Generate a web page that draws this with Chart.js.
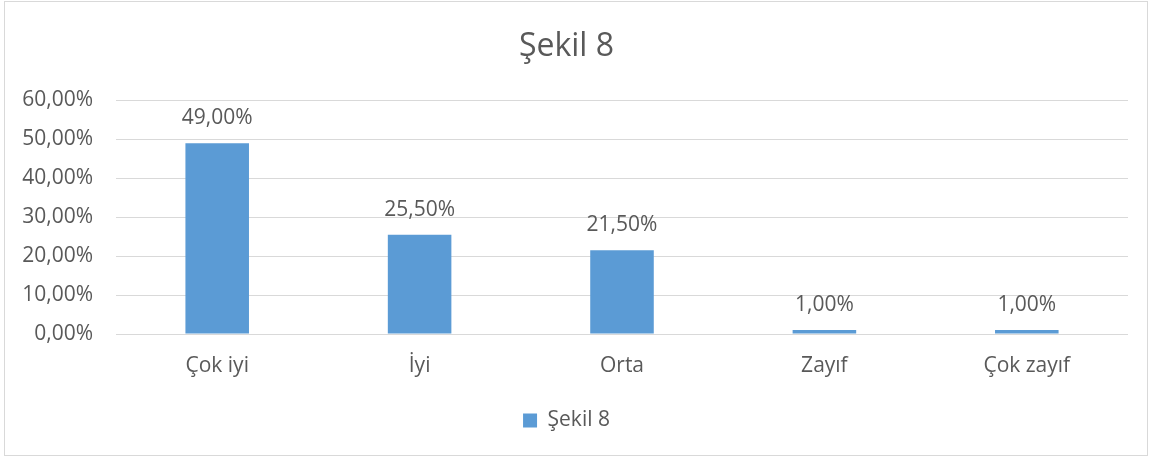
<!DOCTYPE html>
<html>
<head>
<meta charset="utf-8">
<script src="https://cdn.jsdelivr.net/npm/chart.js@4"></script>
<style>
  html, body { margin: 0; padding: 0; background: #fff; }
  #frame { position: absolute; left: 4px; top: 1px; width: 1144px; height: 455px; box-sizing: border-box; border: 1px solid #d9d9d9; }
  #chart { display: block; }
</style>
</head>
<body>
<div id="frame"><canvas id="chart" width="1142" height="453"></canvas></div>
<script>
const categories = ['Çok iyi', 'İyi', 'Orta', 'Zayıf', 'Çok zayıf'];
const seriesName = 'Şekil 8';
const values = [49, 25.5, 21.5, 1, 1];
const yTicks = [0, 10, 20, 30, 40, 50, 60];

const textColor = '#595959';
const font = 'Open Sans';
const fmt = v => v.toFixed(2).replace('.', ',') + '%';

const barLabels = {
  id: 'barLabels',
  afterDatasetsDraw(chart) {
    const ctx = chart.ctx;
    const meta = chart.getDatasetMeta(0);
    ctx.save();
    ctx.font = '21px "' + font + '"';
    ctx.fillStyle = textColor;
    ctx.textAlign = 'center';
    ctx.textBaseline = 'middle';
    meta.data.forEach((bar, i) => {
      ctx.fillText(fmt(values[i]), bar.x, bar.y - 25);
    });
    ctx.restore();
  }
};

new Chart(document.getElementById('chart'), {
  type: 'bar',
  data: {
    labels: categories,
    datasets: [{
      label: seriesName,
      data: values,
      backgroundColor: '#5b9bd5',
      borderWidth: 0,
      categoryPercentage: 1,
      barPercentage: 0.314
    }]
  },
  options: {
    responsive: false,
    animation: false,
    layout: { padding: { left: 0, right: 19, top: 0, bottom: 14 } },
    plugins: {
      title: {
        display: true,
        text: seriesName,
        color: textColor,
        font: { family: font, size: 32, weight: 'normal' },
        padding: { top: 26, bottom: 34 }
      },
      legend: {
        position: 'bottom',
        labels: {
          color: textColor,
          font: { family: font, size: 21 },
          boxWidth: 14,
          boxHeight: 14,
          padding: 10
        }
      },
      tooltip: { enabled: false }
    },
    scales: {
      x: {
        grid: { display: false },
        border: { display: false },
        ticks: { color: textColor, font: { family: font, size: 21 }, padding: 11, maxRotation: 0 },
        afterFit(scale) { scale.height = 66; }
      },
      y: {
        min: 0,
        max: 60,
        afterBuildTicks(scale) { scale.ticks = yTicks.map(v => ({ value: v })); },
        grid: { color: '#d9d9d9', lineWidth: 1, drawTicks: false },
        border: { display: false },
        ticks: { color: textColor, font: { family: font, size: 21 }, padding: 23, callback: v => fmt(v) },
        afterFit(scale) { scale.width = 111; }
      }
    }
  },
  plugins: [barLabels]
});
</script>
</body>
</html>
